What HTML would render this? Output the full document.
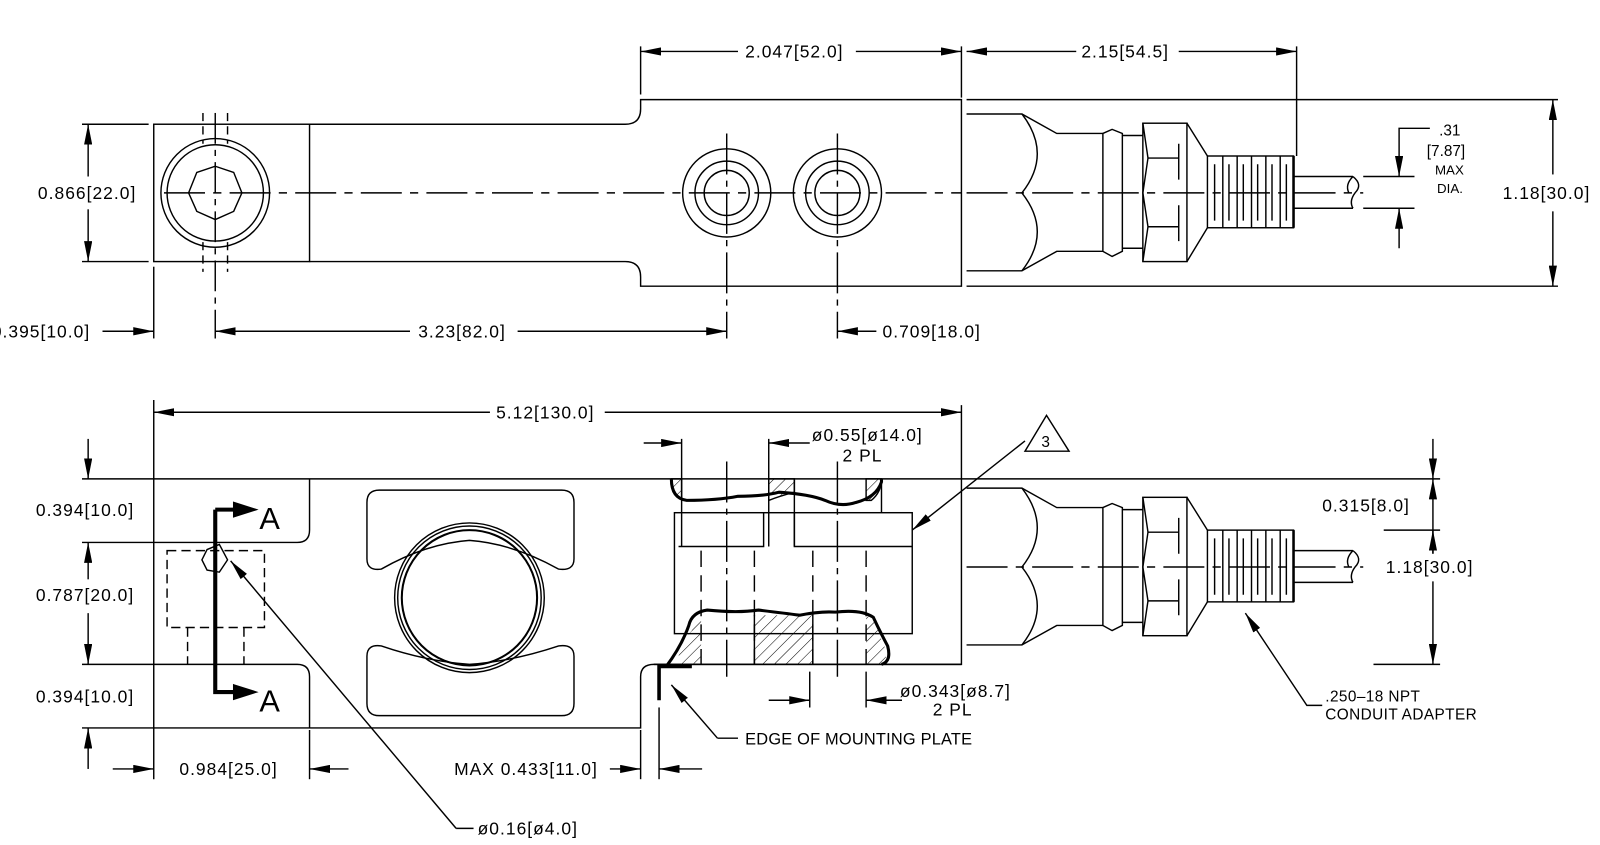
<!DOCTYPE html>
<html><head><meta charset="utf-8"><style>
html,body{margin:0;padding:0;background:#fff;}
svg{display:block;}
text{font-family:"Liberation Sans",sans-serif;fill:#000;}
.t{font-size:17px;letter-spacing:1px;}
.s{font-size:15px;letter-spacing:0.4px;}
</style></head><body>
<svg width="1600" height="845" viewBox="0 0 1561 824" xmlns="http://www.w3.org/2000/svg">
<defs>
<marker id="a" viewBox="0 0 20 8" refX="20" refY="4" markerWidth="20" markerHeight="8" markerUnits="userSpaceOnUse" orient="auto"><path d="M0,0 L20,4 L0,8 Z" fill="#000"/></marker>
<pattern id="h" width="8" height="8" patternUnits="userSpaceOnUse" patternTransform="rotate(45)"><line x1="0" y1="0" x2="0" y2="8" stroke="#000" stroke-width="1"/></pattern>
<g id="cab" fill="none" stroke="#000" stroke-width="1.4">
<path d="M943,111 H997 L1031,130 H1076 M943,264 H997 L1031,245 H1076"/>
<path d="M997,111 Q1027,150 997,188 Q1027,226 997,264"/>
<path d="M1076,130 L1085,126 L1095,130 V245 L1085,250 L1076,245 Z"/>
<path d="M1095,132 H1115 M1095,242 H1115"/>
<rect x="1115" y="120" width="43" height="135"/>
<path d="M1115,120 L1120,154 L1115,188 L1120,221 L1115,255 M1120,154 H1150 M1120,221 H1150 M1150,140 V175 M1150,200 V235"/>
<path d="M1158,120 L1178,152 M1158,255 L1178,222"/>
<rect x="1178" y="152" width="84" height="70"/>
<path d="M1193,152 V222 M1207,152 V222 M1221,152 V222 M1235,152 V222 M1249,152 V222"/>
<path d="M1185,160 V215 M1199,160 V215 M1213,160 V215 M1227,160 V215 M1241,160 V215 M1255,160 V215"/>
<path d="M1262,172 H1320 M1262,203 H1320 M1320,172 Q1330,180 1322,188 Q1316,196 1320,203 M1320,172 Q1312,180 1316,188"/>
<path d="M1262,152 V222" stroke-width="2.5"/>
<path d="M943,188 H1330" stroke-dasharray="40,8,8,8"/>
</g>
</defs>

<g fill="none" stroke="#000" stroke-width="1.4">
<!-- TOP VIEW -->
<rect x="150" y="121" width="152" height="134"/>
<path d="M302,121 H610 Q625,121 625,106 V97 H938 V279 H625 V270 Q625,255 610,255 H302"/>
<circle cx="210" cy="188" r="53"/><circle cx="210" cy="188" r="47"/>
<polygon points="210,162 228,168 236,188 228,206 210,214 192,206 184,188 192,168"/>
<path d="M198,110 V140 M222,110 V140 M198,236 V265 M222,236 V265" stroke-dasharray="8,5"/>
<path d="M210,110 V330" stroke-dasharray="30,6,6,6"/>
<circle cx="709" cy="188" r="43"/><circle cx="709" cy="188" r="31"/><circle cx="709" cy="188" r="22"/>
<circle cx="817" cy="188" r="43"/><circle cx="817" cy="188" r="31"/><circle cx="817" cy="188" r="22"/>
<path d="M709,130 V330 M817,130 V330" stroke-dasharray="40,6,6,6"/>
<path d="M160,188 H938" stroke-dasharray="40,8,8,8"/>
<use href="#cab"/>
<!-- top dims -->
<path d="M625,45 V92 M938,45 V95 M1265,45 V152"/>
<path d="M720,50 H625" marker-end="url(#a)"/><path d="M835,50 H938" marker-end="url(#a)"/>
<path d="M1050,50 H943" marker-end="url(#a)"/><path d="M1150,50 H1265" marker-end="url(#a)"/>
<path d="M80,121 H145 M80,255 H145"/>
<path d="M86,172 V121" marker-end="url(#a)"/><path d="M86,204 V255" marker-end="url(#a)"/>
<path d="M150,260 V330"/>
<path d="M100,323 H150" marker-end="url(#a)"/>
<path d="M400,323 H210" marker-end="url(#a)"/><path d="M505,323 H709" marker-end="url(#a)"/>
<path d="M855,323 H817" marker-end="url(#a)"/>
<path d="M943,97 H1520 M943,279 H1520"/>
<path d="M1515,170 V97" marker-end="url(#a)"/><path d="M1515,206 V279" marker-end="url(#a)"/>
<path d="M1330,172 H1380 M1330,203 H1380"/>
<path d="M1395,125 H1365 V172" marker-end="url(#a)"/>
<path d="M1365,242 V203" marker-end="url(#a)"/>

<!-- BOTTOM VIEW -->
<path d="M80,467 H1405"/>
<path d="M80,529 H290 Q302,529 302,517 V467"/>
<path d="M80,648 H290 Q302,648 302,660 V710"/>
<path d="M80,710 H625 V660 Q625,648 638,648 H938 V467"/>
<path d="M150,390 V760 M938,395 V467"/>
<path d="M163,537 H258 V612 H163 Z M183,612 V648 M238,612 V648" stroke-dasharray="9,5"/>
<path d="M210,497 H245 M210,497 V675 H245" stroke-width="4"/>
<path d="M228,490 L250,497 L228,504 Z M228,668 L250,675 L228,682 Z" fill="#000"/>
<polygon points="202,536 214,531 222,546 214,558 202,556 197,546"/>
<path d="M358,490 Q358,478 370,478 H548 Q560,478 560,490 V545 Q560,557 545,555 Q500,530 458,527 Q416,530 372,555 Q358,557 358,545 Z"/>
<path d="M358,640 Q358,628 372,630 Q416,645 458,648 Q500,645 545,630 Q560,628 560,640 V686 Q560,698 548,698 H370 Q358,698 358,686 Z"/>
<circle cx="458" cy="583" r="73"/><circle cx="458" cy="583" r="70"/><circle cx="458" cy="583" r="66" stroke-width="2"/>
<!-- section -->
<rect x="658" y="500" width="232" height="118"/>
<path d="M662,533 H745 V500 M775,500 V533 H890"/>
<path d="M665,467 V533 M750,467 V533 M775,467 V533 M860,467 V500"/>
<path d="M684,537 V648 M736,537 V648 M793,537 V648 M845,537 V648" stroke-dasharray="16,8"/>
<path d="M709,450 V660 M817,450 V660" stroke-dasharray="40,6,6,6"/>
<path d="M655,467 V470 Q657,485 665,487 L665,467 Z" fill="url(#h)"/>
<path d="M750,467 H775 V480 Q760,484 750,488 Z" fill="url(#h)"/>
<path d="M845,467 H860 Q860,480 850,488 L845,488 Z" fill="url(#h)"/>
<path d="M655,467 Q655,486 670,488 Q700,488 720,484 Q745,484 760,480 Q790,482 805,488 Q820,495 835,490 Q855,485 860,470 V467" stroke-width="3"/>
<path d="M736,600 H793 V648 H736 Z" fill="url(#h)" stroke="none"/>
<path d="M684,600 V648 H660 Q665,625 675,615 Q678,600 684,600 Z M845,600 Q855,605 858,620 Q870,640 860,648 H845 Z" fill="url(#h)" stroke="none"/>
<path d="M736,600 V648 M793,600 V648"/>
<path d="M650,650 Q665,630 672,610 Q675,597 690,595 Q720,598 740,595 Q765,598 780,600 Q800,596 815,597 Q840,594 852,602 Q858,615 866,630 Q870,645 860,648" stroke-width="3"/>
<path d="M638,648 H938"/>
<use href="#cab" transform="translate(0,365)"/>
<!-- bottom dims -->
<path d="M478,402 H150" marker-end="url(#a)"/><path d="M590,402 H938" marker-end="url(#a)"/>
<path d="M86,428 V467" marker-end="url(#a)"/>
<path d="M86,565 V529" marker-end="url(#a)"/><path d="M86,598 V648" marker-end="url(#a)"/>
<path d="M86,750 V710" marker-end="url(#a)"/>
<path d="M110,750 H150" marker-end="url(#a)"/>
<path d="M340,750 H302" marker-end="url(#a)"/><path d="M302,712 V760"/>
<path d="M595,750 H625" marker-end="url(#a)"/>
<path d="M685,750 H643" marker-end="url(#a)"/><path d="M643,690 V760"/>
<path d="M625,712 V760"/>
<path d="M628,432 H665" marker-end="url(#a)"/><path d="M790,432 H750" marker-end="url(#a)"/>
<path d="M665,428 V467 M750,428 V467"/>
<path d="M750,683 H790" marker-end="url(#a)"/><path d="M880,683 H845" marker-end="url(#a)"/>
<path d="M790,655 V690 M845,655 V690"/>
<path d="M1000,440 L1021,405 L1043,440 Z"/>
<path d="M1000,430 L890,517" marker-end="url(#a)"/>
<path d="M1398,428 V467" marker-end="url(#a)"/>
<path d="M1398,540 V467" marker-end="url(#a)"/>
<path d="M1398,540 V517" marker-end="url(#a)"/>
<path d="M1398,567 V648" marker-end="url(#a)"/>
<path d="M1350,517 H1405 M1340,648 H1405"/>
<path d="M643,683 V650 H675" stroke-width="3.5"/>
<path d="M700,720 L655,668" marker-end="url(#a)"/><path d="M700,720 H720"/>
<path d="M445,808 L225,547" marker-end="url(#a)"/><path d="M445,808 H462"/>
<path d="M1290,688 H1275 L1215,598" marker-end="url(#a)"/>
</g>

<g>
<text class="t" x="727" y="56">2.047[52.0]</text>
<text class="t" x="1055" y="56">2.15[54.5]</text>
<text class="t" x="37" y="194">0.866[22.0]</text>
<text class="t" x="-8" y="329">0.395[10.0]</text>
<text class="t" x="408" y="329">3.23[82.0]</text>
<text class="t" x="861" y="329">0.709[18.0]</text>
<text class="t" x="1466" y="194">1.18[30.0]</text>
<text x="1404" y="132" style="font-size:15px">.31</text>
<text x="1392" y="152" style="font-size:15px">[7.87]</text>
<text x="1400" y="170" style="font-size:13px">MAX</text>
<text x="1402" y="188" style="font-size:13px">DIA.</text>
<text class="t" x="484" y="408">5.12[130.0]</text>
<text class="t" x="35" y="503">0.394[10.0]</text>
<text class="t" x="35" y="586">0.787[20.0]</text>
<text class="t" x="35" y="685">0.394[10.0]</text>
<text class="t" x="175" y="756">0.984[25.0]</text>
<text class="t" x="443" y="756">MAX 0.433[11.0]</text>
<text class="t" x="792" y="430">ø0.55[ø14.0]</text>
<text class="t" x="822" y="450">2 PL</text>
<text class="t" x="878" y="680">ø0.343[ø8.7]</text>
<text class="t" x="910" y="698">2 PL</text>
<text x="1016" y="436" style="font-size:15px">3</text>
<text x="727" y="726" style="font-size:16px;letter-spacing:0.2px">EDGE OF MOUNTING PLATE</text>
<text class="t" x="466" y="814">ø0.16[ø4.0]</text>
<text class="s" x="1293" y="684">.250–18 NPT</text>
<text class="s" x="1293" y="702">CONDUIT ADAPTER</text>
<text class="t" x="1290" y="499">0.315[8.0]</text>
<text class="t" x="1352" y="559">1.18[30.0]</text>
<text x="253" y="516" style="font-size:30px">A</text>
<text x="253" y="694" style="font-size:30px">A</text>
</g>
</svg>
</body></html>
